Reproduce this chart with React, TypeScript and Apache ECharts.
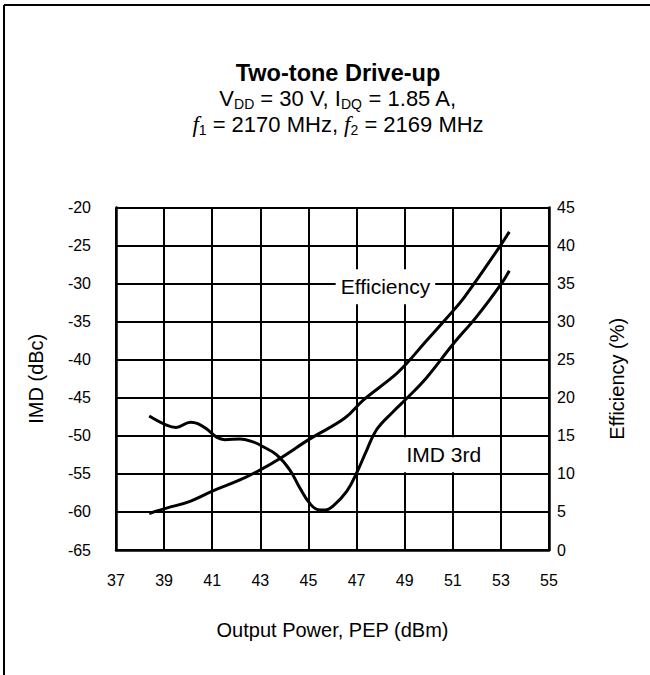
import React, { useEffect, useRef } from "react";
import * as echarts from "echarts";

const imdX = [38.38, 39.1, 39.5, 40.1, 40.4, 40.77, 41.2, 41.53, 42.15, 42.7, 43.1, 43.68, 44.23, 44.65, 45.06, 45.4, 45.69, 46.03, 46.59, 47.0, 47.42, 47.83, 48.53, 49.08, 49.9, 51.0, 52.0, 53.03, 53.35];
const imdY = [-47.4, -48.6, -48.9, -48.2, -48.4, -49.1, -50.2, -50.5, -50.4, -50.8, -51.4, -52.5, -54.5, -56.9, -58.9, -59.7, -59.75, -59.2, -57.3, -54.9, -51.9, -49.2, -46.8, -45.1, -42.4, -38.0, -34.3, -29.96, -28.3];

const effX = [38.38, 39.1, 40.08, 41.05, 42.15, 42.98, 43.8, 45.06, 46.5, 47.28, 48.53, 49.08, 49.85, 50.74, 51.5, 52.96, 53.35];
const effY = [4.8, 5.5, 6.4, 7.8, 9.2, 10.5, 12.0, 14.6, 17.3, 19.7, 22.8, 24.5, 27.3, 30.45, 33.3, 39.9, 41.8];

const xTicks = { min: 37, max: 55, interval: 2 };
const imdTicks = { min: -65, max: -20, interval: 5 };
const effTicks = { min: 0, max: 45, interval: 5 };

const effLabel = { text: "Efficiency", x: 48.2, y: 34.6 };
const imdLabel = { text: "IMD 3rd", x: 50.63, y: -52.5 };

const FONT = "'Liberation Sans', Arial, sans-serif";

export default function App() {
  const ref = useRef<HTMLDivElement>(null);
  useEffect(() => {
    if (!ref.current) return;
    const chart = echarts.init(ref.current, undefined, { renderer: "svg" });
    const imdData = imdX.map((x, i) => [x, imdY[i]]);
    const effData = effX.map((x, i) => [x, effY[i]]);
    const labelStyle = {
      show: true,
      position: "inside",
      color: "#000",
      fontFamily: FONT,
      fontSize: 21,
      backgroundColor: "#fff",
      padding: [7, 5, 7, 5],
    };
    chart.setOption({
      animation: false,
      backgroundColor: "#fff",
      textStyle: { fontFamily: FONT, color: "#000" },
      title: {
        left: 333,
        top: 56,
        textAlign: "center",
        text: "Two-tone Drive-up",
        textStyle: { fontFamily: FONT, fontWeight: "bold", fontSize: 23.5, color: "#000" },
        itemGap: 0,
        subtext: "V{sub|DD} = 30 V, I{sub|DQ} = 1.85 A,\n{it|f}{sub|1} = 2170 MHz, {it|f}{sub|2} = 2169 MHz",
        subtextStyle: {
          fontFamily: FONT,
          fontSize: 22,
          color: "#000",
          lineHeight: 26,
          rich: {
            sub: { fontFamily: FONT, fontSize: 14, color: "#000", lineHeight: 16, verticalAlign: "bottom" },
            it: { fontFamily: "'Liberation Serif', serif", fontStyle: "italic", fontSize: 23, color: "#000", lineHeight: 26 },
          },
        },
      },
      graphic: [
        { type: "line", shape: { x1: 4, y1: 5, x2: 650, y2: 5 }, style: { stroke: "#000", lineWidth: 2 } },
        { type: "line", shape: { x1: 4, y1: 5, x2: 4, y2: 675 }, style: { stroke: "#000", lineWidth: 2 } },
      ],
      grid: { left: 116, right: 101, top: 207.5, bottom: 125, containLabel: false },
      xAxis: {
        type: "value",
        ...xTicks,
        name: "Output Power, PEP (dBm)",
        nameLocation: "middle",
        nameGap: 70,
        nameTextStyle: { fontFamily: FONT, fontSize: 20, color: "#000" },
        axisLine: { show: true, lineStyle: { color: "#000", width: 2.5 } },
        axisTick: { show: false },
        axisLabel: { color: "#000", fontFamily: FONT, fontSize: 16, margin: 22 },
        splitLine: { show: true, lineStyle: { color: "#000", width: 2 } },
      },
      yAxis: [
        {
          type: "value",
          ...imdTicks,
          name: "IMD (dBc)",
          nameLocation: "middle",
          nameGap: 70,
          nameTextStyle: { fontFamily: FONT, fontSize: 20, color: "#000" },
          axisLine: { show: true, lineStyle: { color: "#000", width: 2.5 } },
          axisTick: { show: false },
          axisLabel: { color: "#000", fontFamily: FONT, fontSize: 16, margin: 25 },
          splitLine: { show: true, lineStyle: { color: "#000", width: 2 } },
        },
        {
          type: "value",
          ...effTicks,
          position: "right",
          name: "Efficiency (%)",
          nameLocation: "middle",
          nameGap: 58,
          nameTextStyle: { fontFamily: FONT, fontSize: 20, color: "#000" },
          axisLine: { show: true, lineStyle: { color: "#000", width: 2.5 } },
          axisTick: { show: false },
          axisLabel: { color: "#000", fontFamily: FONT, fontSize: 16, margin: 8 },
          splitLine: { show: false },
        },
      ],
      series: [
        {
          type: "line",
          name: "IMD 3rd",
          yAxisIndex: 0,
          data: imdData,
          smooth: 0.4,
          showSymbol: false,
          symbol: "none",
          lineStyle: { color: "#000", width: 3 },
          markPoint: {
            symbol: "rect",
            symbolSize: 1,
            itemStyle: { color: "rgba(0,0,0,0)" },
            label: labelStyle,
            data: [{ coord: [imdLabel.x, imdLabel.y], value: imdLabel.text, label: { formatter: imdLabel.text } }],
          },
        },
        {
          type: "line",
          name: "Efficiency",
          yAxisIndex: 1,
          data: effData,
          smooth: 0.4,
          showSymbol: false,
          symbol: "none",
          lineStyle: { color: "#000", width: 3 },
          markPoint: {
            symbol: "rect",
            symbolSize: 1,
            itemStyle: { color: "rgba(0,0,0,0)" },
            label: labelStyle,
            data: [{ coord: [effLabel.x, effLabel.y], value: effLabel.text, label: { formatter: effLabel.text } }],
          },
        },
      ],
    });
    return () => chart.dispose();
  }, []);
  return <div ref={ref} style={{ position: "fixed", left: 0, top: 0, width: 650, height: 675 }} />;
}
